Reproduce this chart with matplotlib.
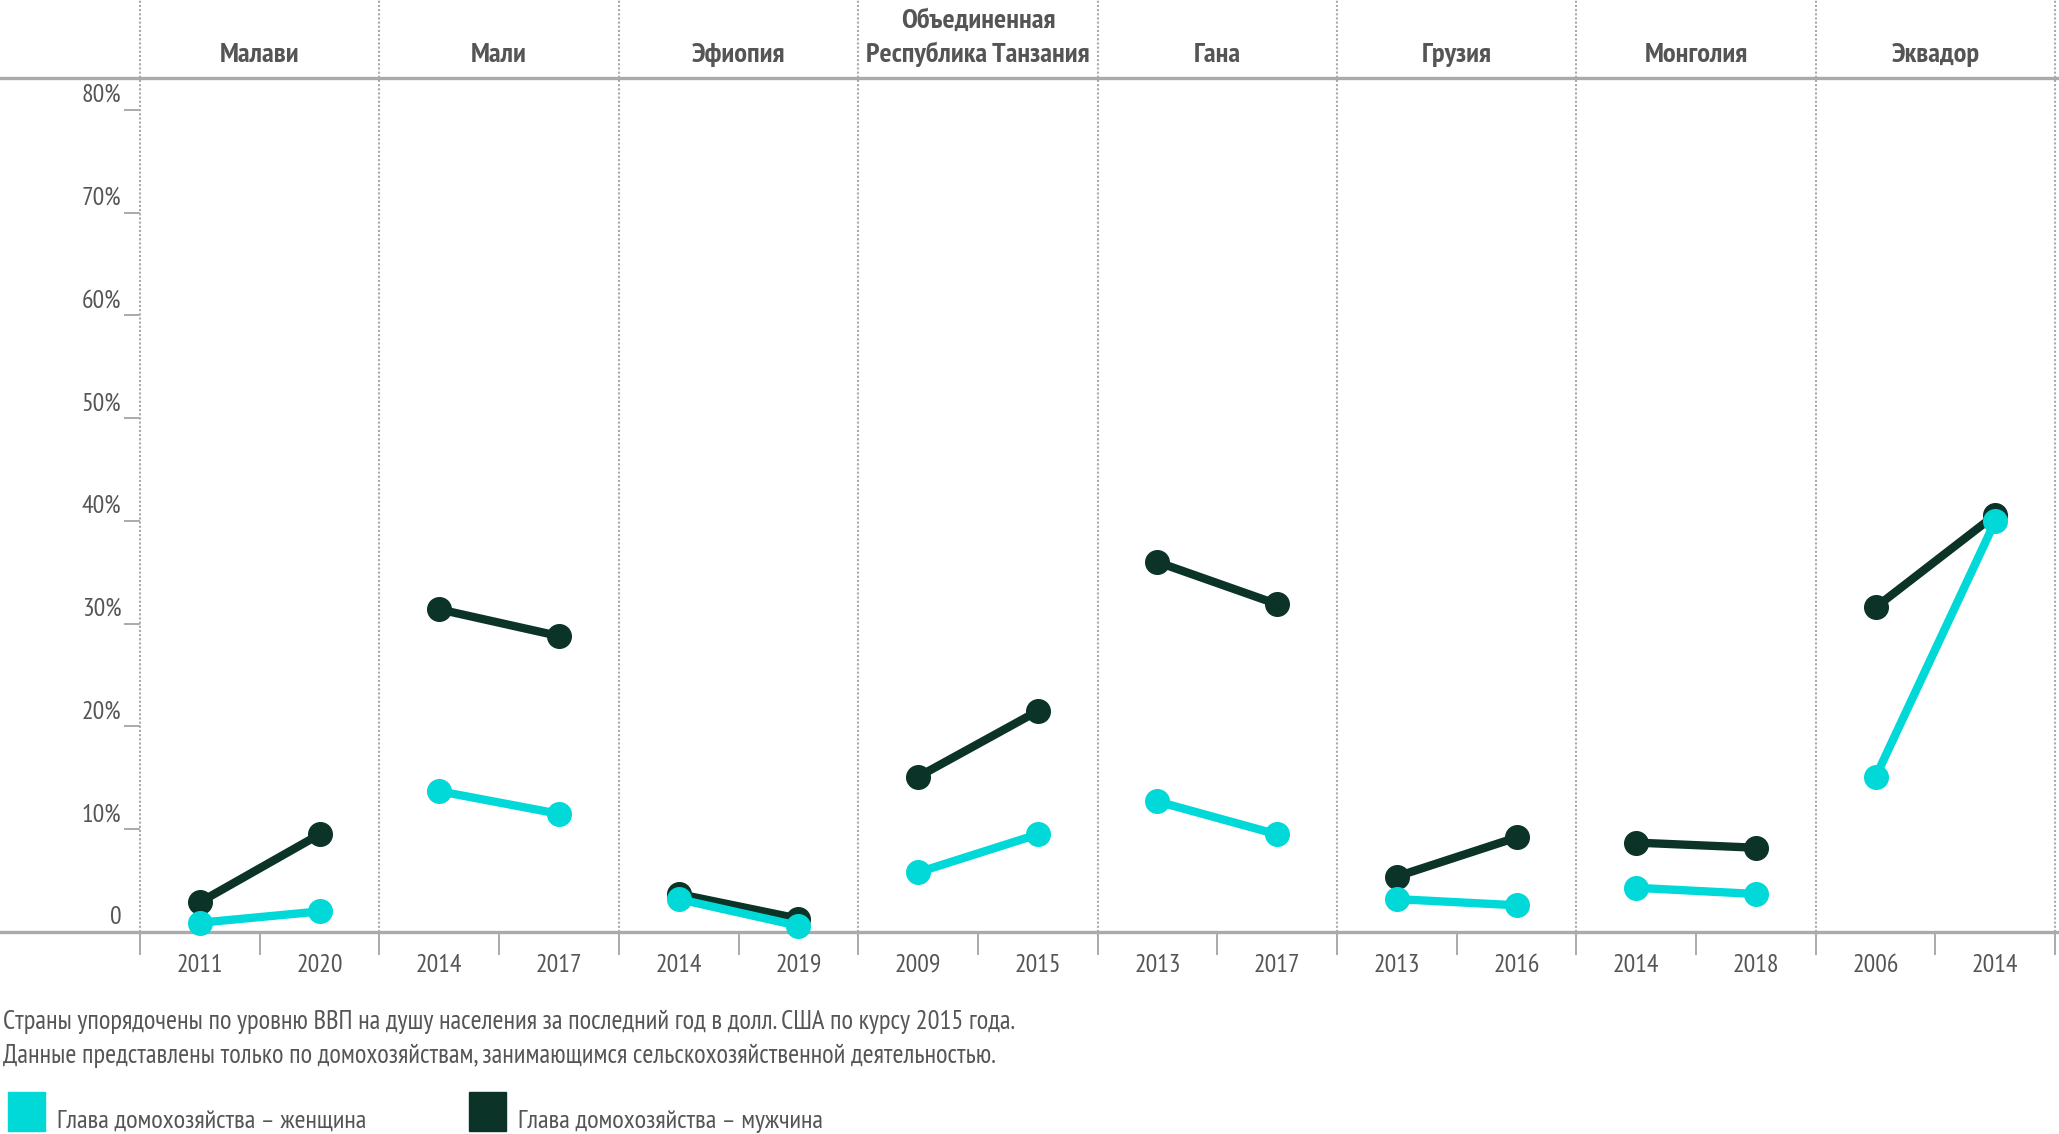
import matplotlib
matplotlib.use("Agg")
import matplotlib.pyplot as plt
from matplotlib import font_manager
from matplotlib.patches import Patch
from matplotlib.transforms import ScaledTranslation, blended_transform_factory
import numpy as np

# data (percent)
countries = ["Малави", "Мали", "Эфиопия", "Объединенная\nРеспублика Танзания",
             "Гана", "Грузия", "Монголия", "Эквадор"]
years_first = ["2011", "2014", "2014", "2009", "2013", "2013", "2014", "2006"]
years_last = ["2020", "2017", "2019", "2015", "2017", "2016", "2018", "2014"]
women_first = [0.9, 13.7, 3.2, 5.8, 12.7, 3.2, 4.3, 15.1]
women_last = [2.0, 11.5, 0.6, 9.5, 9.5, 2.6, 3.7, 40.0]
men_first = [2.9, 31.4, 3.7, 15.1, 36.0, 5.4, 8.7, 31.6]
men_last = [9.5, 28.8, 1.3, 21.5, 31.9, 9.2, 8.2, 40.6]
y_ticks = [0, 10, 20, 30, 40, 50, 60, 70, 80]
y_labels = ["0"] + [f"{v}%" for v in y_ticks[1:]]
legend_labels = ["Глава домохозяйства – женщина", "Глава домохозяйства – мужчина"]
notes = ["Страны упорядочены по уровню ВВП на душу населения за последний год в долл. США по курсу 2015 года.",
         "Данные представлены только по домохозяйствам, занимающимся сельскохозяйственной деятельностью."]

CYAN = "#00d9d8"
DARK = "#0b3327"
GRID = "#aaaaaa"
TXT = "#555555"

# pick a narrow font with cyrillic
names = {f.name for f in font_manager.fontManager.ttflist}
narrow = "DejaVu Sans"
for cand in ["PT Sans Narrow", "Fira Sans Extra Condensed", "Roboto Condensed", "Fira Sans Condensed"]:
    if cand in names:
        narrow = cand
        break
plt.rcParams['font.family'] = [narrow, 'DejaVu Sans']

W, H = 2059, 1134
fig = plt.figure(figsize=(W / 100, H / 100), dpi=100)
ax_bottom_px, ax_top_px = 932, 77.5
ax = fig.add_axes([0, 1 - ax_bottom_px / H, 1, (ax_bottom_px - ax_top_px) / H])

x0_px, unit = 140, 239.4
ax.set_xlim(-x0_px / unit, (W - x0_px) / unit)
ax.set_ylim(0, (ax_bottom_px - ax_top_px) / 102.76 * 10)

for side in ["left", "right"]:
    ax.spines[side].set_visible(False)
for side in ["top", "bottom"]:
    ax.spines[side].set_color(GRID)
    ax.spines[side].set_linewidth(2.4)
ax.spines["left"].set_position(("data", 0))

fs = 18.5

# y axis
ax.set_yticks(y_ticks)
ax.set_yticklabels(y_labels, va="bottom")
ax.tick_params(axis="y", direction="out", length=11.5, width=1.4, color=GRID,
               pad=2, labelsize=fs, labelcolor=TXT)
for lab in ax.get_yticklabels():
    lab.set_transform(lab.get_transform() + ScaledTranslation(0, 0.03, fig.dpi_scale_trans))

# x axis: boundary/mid ticks, year labels as minor ticks
n = len(countries)
ax.set_xticks(np.arange(0, n + 0.01, 0.5))
ax.set_xticklabels([])
pos = []
labs = []
for i in range(n):
    pos += [i + 0.25, i + 0.75]
    labs += [years_first[i], years_last[i]]
ax.set_xticks(pos, minor=True)
ax.set_xticklabels(labs, minor=True)
ax.tick_params(axis="x", which="major", direction="out", length=16.5, width=1.4, color=GRID)
ax.tick_params(axis="x", which="minor", length=0, pad=15.5, labelsize=fs, labelcolor=TXT)

# dotted panel separators, running up through the header area
for i in range(n + 1):
    ax.axvline(i, ymin=0, ymax=ax_bottom_px / (ax_bottom_px - ax_top_px), color=GRID,
               lw=1.5, ls=(0, (1, 1)), clip_on=False, zorder=1)

# headers
tr = blended_transform_factory(ax.transData, fig.transFigure)
for i, name in enumerate(countries):
    lines = name.split("\n")[::-1]
    for k, line in enumerate(lines):
        ax.text(i + 0.5, 1 - (62 - k * 34) / H, line, transform=tr, ha="center",
                va="baseline", fontsize=20.5, fontweight="bold", color=TXT)

# slope lines
for i in range(n):
    ax.plot([i + 0.25, i + 0.75], [men_first[i], men_last[i]], color=DARK, lw=6,
            marker="o", ms=17, clip_on=False, zorder=3)
    ax.plot([i + 0.25, i + 0.75], [women_first[i], women_last[i]], color=CYAN, lw=6,
            marker="o", ms=17, clip_on=False, zorder=4)

# notes
fig.text(3 / W, 1 - 1022 / H, notes[0], ha="left", va="center", fontsize=19.1, color=TXT)
fig.text(3 / W, 1 - 1056 / H, notes[1], ha="left", va="center", fontsize=19.1, color=TXT)

handles = [Patch(color=CYAN, label=legend_labels[0]), Patch(color=DARK, label=legend_labels[1])]
leg = fig.legend(handles=handles, loc="lower left", bbox_to_anchor=(0, -5 / H), ncol=2, frameon=False,
                 fontsize=19, labelcolor=TXT, handlelength=1.4, handleheight=1.9,
                 handletextpad=0.45, columnspacing=3.9, borderaxespad=0.1, borderpad=0.2)
# legend text sits low next to the squares
for t in leg.get_texts():
    t.set_transform(t.get_transform() + ScaledTranslation(0, -0.08, fig.dpi_scale_trans))

fig.savefig("out.png", dpi=100)
